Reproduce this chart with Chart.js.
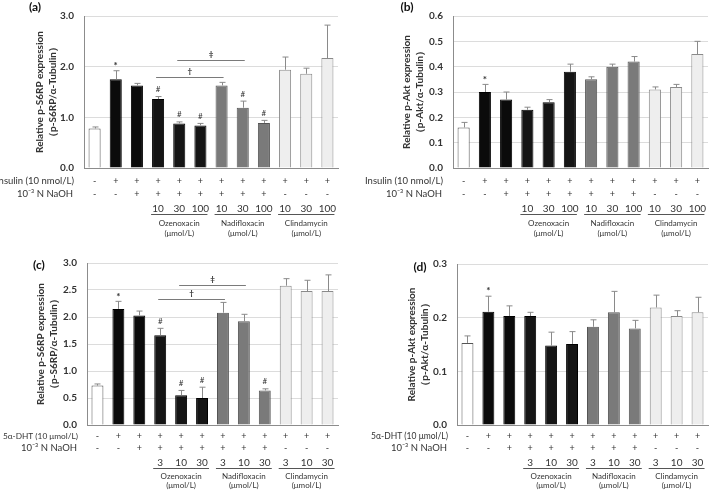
<!DOCTYPE html>
<html>
<head>
<meta charset="utf-8">
<script src="https://cdn.jsdelivr.net/npm/chart.js@4"></script>
<style>
  body { margin: 0; background: #fff; }
  #wrap { position: relative; width: 709px; height: 491px; }
  canvas { position: absolute; }
</style>
</head>
<body>
<div id="wrap">
  <canvas id="chartA" style="left:0;top:0"></canvas>
  <canvas id="chartB" style="left:352px;top:0"></canvas>
  <canvas id="chartC" style="left:0;top:245px"></canvas>
  <canvas id="chartD" style="left:352px;top:245px"></canvas>
</div>
<script>
// 12 treatment groups per panel
const categories = ['1', '2', '3', '4', '5', '6', '7', '8', '9', '10', '11', '12'];
const stimRow = ['-', '+', '+', '+', '+', '+', '+', '+', '+', '+', '+', '+'];
const naohRow = ['-', '-', '+', '+', '+', '+', '+', '+', '+', '-', '-', '-'];
const drugNames = ['Ozenoxacin', 'Nadifloxacin', 'Clindamycin'];
const dosesInsulin = ['10', '30', '100'];
const dosesDHT = ['3', '10', '30'];

// (a) p-S6RP, insulin
const valuesA = [0.78, 1.75, 1.63, 1.36, 0.88, 0.84, 1.63, 1.19, 0.89, 1.94, 1.86, 2.17];
const errorsA = [0.81, 1.92, 1.67, 1.41, 0.91, 0.88, 1.69, 1.32, 0.94, 2.19, 1.97, 2.82];
const marksA = ['', '*', '', '#', '#', '#', '', '#', '#', '', '', ''];
// (b) p-Akt, insulin
const valuesB = [0.16, 0.30, 0.27, 0.23, 0.26, 0.38, 0.35, 0.40, 0.42, 0.31, 0.32, 0.45];
const errorsB = [0.18, 0.33, 0.30, 0.24, 0.27, 0.41, 0.36, 0.41, 0.44, 0.32, 0.33, 0.50];
const marksB = ['', '*', '', '', '', '', '', '', '', '', '', ''];
// (c) p-S6RP, 5α-DHT
const valuesC = [0.73, 2.15, 2.03, 1.66, 0.55, 0.50, 2.08, 1.92, 0.64, 2.58, 2.48, 2.48];
const errorsC = [0.76, 2.29, 2.11, 1.79, 0.64, 0.70, 2.27, 2.05, 0.67, 2.71, 2.68, 2.78];
const marksC = ['', '*', '', '#', '#', '#', '', '', '#', '', '', ''];
// (d) p-Akt, 5α-DHT
const valuesD = [0.153, 0.211, 0.203, 0.203, 0.148, 0.151, 0.183, 0.210, 0.180, 0.219, 0.203, 0.210];
const errorsD = [0.166, 0.240, 0.222, 0.210, 0.173, 0.174, 0.196, 0.249, 0.195, 0.242, 0.213, 0.238];
const marksD = ['', '*', '', '', '', '', '', '', '', '', '', ''];

// significance brackets: [from bar, to bar, level, symbol]
const bracketsA = [[3, 6, 1.80, '†'], [4, 7, 2.125, '‡']];
const bracketsC = [[3, 6, 2.34, '†'], [4, 7, 2.585, '‡']];

const fills = ['#ffffff', '#0b0b0b', '#0b0b0b', '#151515', '#151515', '#151515',
               '#7a7a7a', '#7a7a7a', '#7a7a7a', '#eeeeee', '#eeeeee', '#eeeeee'];
const borders = ['#555555', '#000000', '#000000', '#000000', '#000000', '#000000',
                 '#555555', '#555555', '#555555', '#8a8a8a', '#8a8a8a', '#8a8a8a'];

const FONT = 'Lato, "Open Sans", sans-serif';
const TEXT = '#333333';

const extrasPlugin = {
  id: 'extras',
  afterDatasetsDraw(chart) {
    const o = chart.options.plugins.extras;
    const ctx = chart.ctx;
    const y = chart.scales.y;
    const bars = chart.getDatasetMeta(0).data;
    const area = chart.chartArea;
    ctx.save();
    // error bars (upper half only)
    ctx.strokeStyle = '#8a8a8a';
    ctx.lineWidth = 1;
    o.errors.forEach((e, i) => {
      const cx = Math.round(bars[i].x) + 0.5;
      const top = y.getPixelForValue(e);
      ctx.beginPath();
      ctx.moveTo(cx, y.getPixelForValue(o.values[i]));
      ctx.lineTo(cx, top);
      ctx.moveTo(cx - 3, top);
      ctx.lineTo(cx + 3, top);
      ctx.stroke();
    });
    // * and # marks
    ctx.fillStyle = TEXT;
    ctx.textAlign = 'center';
    ctx.textBaseline = 'middle';
    o.marks.forEach((m, i) => {
      if (!m) return;
      ctx.font = (m === '*' ? 'bold 10px ' : '8px ') + FONT;
      ctx.fillText(m, bars[i].x, y.getPixelForValue(o.errors[i]) - (m === '*' ? 5 : 7));
    });
    // brackets
    ctx.strokeStyle = '#7a7a7a';
    (o.brackets || []).forEach(([a, b, v, s]) => {
      const yy = Math.round(y.getPixelForValue(v)) + 0.5;
      ctx.beginPath();
      ctx.moveTo(bars[a].x - 2, yy);
      ctx.lineTo(bars[b].x + 2, yy);
      ctx.stroke();
      ctx.font = 'bold 8px ' + FONT;
      ctx.fillText(s, (bars[a].x + bars[b].x) / 2, yy - 6);
    });
    // treatment rows under the axis
    const r = o.rows;
    const base = area.bottom;
    ctx.font = o.labelFont + 'px ' + FONT;
    ctx.textAlign = 'right';
    ctx.fillText(o.stimLabel, area.left - o.labelGap, base + r[0]);
    ctx.font = '9.5px ' + FONT;
    ctx.fillText('10⁻³ N NaOH', area.left - o.labelGap - 1, base + r[1]);
    ctx.textAlign = 'center';
    ctx.font = '9px ' + FONT;
    categories.forEach((c, i) => {
      ctx.fillText(stimRow[i], bars[i].x, base + r[0]);
      ctx.fillText(naohRow[i], bars[i].x, base + r[1]);
    });
    drugNames.forEach((name, g) => {
      const i0 = 3 + g * 3;
      ctx.font = '10px ' + FONT;
      o.doses.forEach((d, k) => ctx.fillText(d, bars[i0 + k].x, base + r[2]));
      ctx.strokeStyle = '#555555';
      ctx.beginPath();
      ctx.moveTo(bars[i0].x - 7, Math.round(base + r[3]) + 0.5);
      ctx.lineTo(bars[i0 + 2].x + 7, Math.round(base + r[3]) + 0.5);
      ctx.stroke();
      ctx.font = '8px ' + FONT;
      ctx.fillText(name, bars[i0 + 1].x, base + r[4]);
      ctx.fillText('(μmol/L)', bars[i0 + 1].x, base + r[5]);
    });
    // panel letter
    ctx.font = 'bold 12px ' + FONT;
    ctx.fillStyle = '#111111';
    ctx.fillText(o.letter, o.letterPos[0], o.letterPos[1]);
    ctx.restore();
  }
};

function makePanel(id, cfg) {
  const el = document.getElementById(id);
  el.width = cfg.size[0];
  el.height = cfg.size[1];
  el.style.width = cfg.size[0] + 'px';
  el.style.height = cfg.size[1] + 'px';
  return new Chart(el, {
    type: 'bar',
    data: {
      labels: categories,
      datasets: [{
        data: cfg.values,
        backgroundColor: fills,
        borderColor: borders,
        borderWidth: 1,
        barPercentage: 0.57,
        categoryPercentage: 1
      }]
    },
    options: {
      responsive: false,
      animation: false,
      layout: { padding: cfg.padding },
      plugins: {
        legend: { display: false },
        tooltip: { enabled: false },
        extras: {
          values: cfg.values, errors: cfg.errors, marks: cfg.marks,
          brackets: cfg.brackets, rows: cfg.rows, doses: cfg.doses,
          stimLabel: cfg.stimLabel, labelFont: cfg.labelFont, labelGap: cfg.labelGap,
          letter: cfg.letter, letterPos: cfg.letterPos
        }
      },
      scales: {
        x: {
          offset: true,
          ticks: { display: false },
          grid: { display: false, drawTicks: false },
          border: { display: true, color: '#8c8c8c' },
          afterFit: s => { s.height = 0; }
        },
        y: {
          min: 0, max: cfg.max,
          ticks: {
            stepSize: cfg.step, padding: 10, color: TEXT,
            font: { family: FONT, size: 10, weight: 'bold' },
            callback: v => v.toFixed(1)
          },
          grid: { color: '#dcdcdc', drawTicks: false },
          border: { color: '#8c8c8c' },
          title: {
            display: true, text: cfg.title, color: TEXT,
            font: { family: FONT, size: 10, weight: 'bold', lineHeight: 1.3 },
            padding: { top: cfg.titlePad, bottom: 0 }
          },
          afterFit: s => { s.width = cfg.axisLeft; }
        }
      }
    },
    plugins: [extrasPlugin]
  });
}

const titleS6 = ['Relative p-S6RP expression', '（p-S6RP/α-Tubulin）'];
const titleAkt = ['Relative p-Akt expression', '（p-Akt/α-Tubulin）'];
const rowsTop = [13, 26, 41, 46, 55, 65];
const rowsBottom = [11, 23, 38, 43, 51, 60];

makePanel('chartA', {
  size: [352, 245], padding: { left: 0, top: 5, right: 14, bottom: 77 }, axisLeft: 84,
  values: valuesA, errors: errorsA, marks: marksA, brackets: bracketsA,
  max: 3, step: 1, title: titleS6, titlePad: 33, rows: rowsTop, doses: dosesInsulin,
  stimLabel: 'Insulin (10 nmol/L)', labelFont: 9.5, labelGap: 10,
  letter: '(a)', letterPos: [35, 7]
});
makePanel('chartB', {
  size: [357, 245], padding: { left: 0, top: 5, right: 1, bottom: 77 }, axisLeft: 101,
  values: valuesB, errors: errorsB, marks: marksB, brackets: [],
  max: 0.6, step: 0.1, title: titleAkt, titlePad: 48, rows: rowsTop, doses: dosesInsulin,
  stimLabel: 'Insulin (10 nmol/L)', labelFont: 9.5, labelGap: 10,
  letter: '(b)', letterPos: [55, 7]
});
makePanel('chartC', {
  size: [352, 246], padding: { left: 0, top: 18, right: 14, bottom: 66 }, axisLeft: 87,
  values: valuesC, errors: errorsC, marks: marksC, brackets: bracketsC,
  max: 3, step: 0.5, title: titleS6, titlePad: 34, rows: rowsBottom, doses: dosesDHT,
  stimLabel: '5α-DHT (10 μmol/L)', labelFont: 8.3, labelGap: 9,
  letter: '(c)', letterPos: [39, 20]
});
makePanel('chartD', {
  size: [357, 246], padding: { left: 0, top: 19, right: 1, bottom: 66 }, axisLeft: 105,
  values: valuesD, errors: errorsD, marks: marksD, brackets: [],
  max: 0.3, step: 0.1, title: titleAkt, titlePad: 53, rows: rowsBottom, doses: dosesDHT,
  stimLabel: '5α-DHT (10 μmol/L)', labelFont: 8.5, labelGap: 9,
  letter: '(d)', letterPos: [68, 22]
});
</script>
</body>
</html>
